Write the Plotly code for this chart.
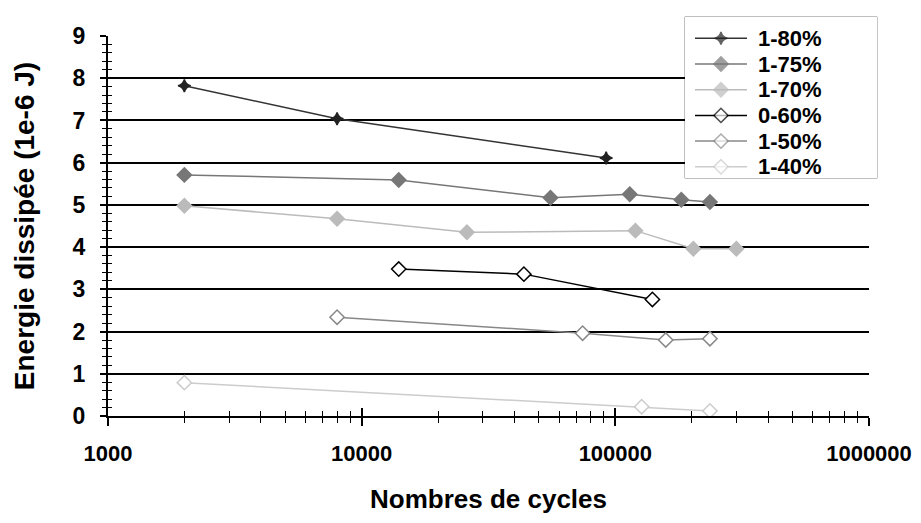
import plotly.graph_objects as go

# Energie dissipee vs nombre de cycles, one series per load level
series_names = ["1-80%", "1-75%", "1-70%", "0-60%", "1-50%", "1-40%"]

cycles_80 = [2000, 8000, 92000]
energy_80 = [7.82, 7.04, 6.11]

cycles_75 = [2000, 14000, 55500, 114000, 182000, 236000]
energy_75 = [5.71, 5.59, 5.17, 5.25, 5.12, 5.07]

cycles_70 = [2000, 8000, 26000, 120000, 203000, 300000]
energy_70 = [4.98, 4.67, 4.35, 4.39, 3.96, 3.96]

cycles_60 = [14000, 43600, 140000]
energy_60 = [3.48, 3.36, 2.76]

cycles_50 = [8000, 74300, 158000, 236000]
energy_50 = [2.34, 1.96, 1.80, 1.83]

cycles_40 = [2000, 127000, 236000]
energy_40 = [0.79, 0.22, 0.12]

x_ticks = [1000, 10000, 100000, 1000000]
y_ticks = list(range(10))

FONT = "Liberation Sans, Arial, sans-serif"

styles = [
    # line colour, marker symbol, marker size, marker fill, marker outline
    ("#333333", "star-diamond", 9, "#222222", "#222222"),
    ("#777777", "diamond", 11, "#777777", "#777777"),
    ("#bbbbbb", "diamond", 11, "#bbbbbb", "#bbbbbb"),
    ("#000000", "diamond", 11, "white", "#000000"),
    ("#888888", "diamond", 11, "white", "#888888"),
    ("#cccccc", "diamond", 11, "white", "#cccccc"),
]
data = [
    (cycles_80, energy_80), (cycles_75, energy_75), (cycles_70, energy_70),
    (cycles_60, energy_60), (cycles_50, energy_50), (cycles_40, energy_40),
]

fig = go.Figure()
for name, (xs, ys), (lc, sym, size, fill, outline) in zip(series_names, data, styles):
    fig.add_trace(go.Scatter(
        x=xs, y=ys, name=name, mode="lines+markers",
        line=dict(color=lc, width=1.5),
        marker=dict(symbol=sym, size=size, color=fill,
                    line=dict(color=outline, width=1.5)),
        showlegend=False,
    ))

# dummy trace on the overlay axes so the inward ticks get drawn
fig.add_trace(go.Scatter(x=[1000], y=[0], xaxis="x2", yaxis="y2",
                         mode="markers", marker=dict(opacity=0),
                         showlegend=False, hoverinfo="skip"))

# hand-built legend in its own small subplot (x3/y3, units = pixels / rows)
for i, (name, (lc, sym, size, fill, outline)) in enumerate(zip(series_names, styles)):
    fig.add_trace(go.Scatter(
        x=[10, 36, 62], y=[i, i, i], xaxis="x3", yaxis="y3",
        mode="lines+markers", line=dict(color=lc, width=1.5),
        marker=dict(symbol=sym, size=[0, size, 0], color=fill,
                    line=dict(color=outline, width=[0, 1.5, 0])),
        showlegend=False, hoverinfo="skip",
    ))
    fig.add_annotation(x=71, y=i, xref="x3", yref="y3", text=name,
                       showarrow=False, xanchor="left", yanchor="middle",
                       font=dict(family=FONT, size=22, color="black", weight="bold"))

fig.add_shape(type="rect", xref="x3 domain", yref="y3 domain",
              x0=0.004, x1=0.996, y0=0.005, y1=0.995,
              line=dict(color="black", width=2), fillcolor="white", layer="below")

fig.update_layout(
    width=921, height=523,
    margin=dict(l=100, r=52, t=9, b=115),
    paper_bgcolor="white", plot_bgcolor="white",
    font=dict(family=FONT, size=17, color="black"),
    showlegend=False,
    xaxis=dict(
        type="log", range=[3, 6], domain=[0, 0.9896], automargin=False,
        tickvals=x_ticks, ticktext=[str(v) for v in x_ticks],
        showgrid=False, zeroline=False,
        showline=True, linecolor="black", linewidth=2,
        ticks="outside", ticklen=8, tickwidth=1.5, tickcolor="black",
        minor=dict(ticks="outside", ticklen=5, tickwidth=1.2, tickcolor="black",
                   dtick="D1", showgrid=False),
        ticklabelstandoff=9,
        tickfont=dict(family=FONT, size=22, color="black", weight="bold"),
        title=dict(text="Nombres de cycles", standoff=24,
                   font=dict(family=FONT, size=26, color="black", weight="bold")),
    ),
    yaxis=dict(
        range=[0, 9], domain=[0, 0.9524], automargin=False,
        tickvals=y_ticks,
        showgrid=True, gridcolor="black", gridwidth=1.5,
        zeroline=False,
        showline=True, linecolor="black", linewidth=2,
        ticks="outside", ticklen=6, tickwidth=1.5, tickcolor="black",
        minor=dict(ticks="outside", ticklen=4, tickwidth=1, tickcolor="black",
                   dtick=0.2, showgrid=False),
        ticklabelstandoff=10,
        tickfont=dict(family=FONT, size=23, color="black", weight="bold"),
        title=dict(text="Energie dissipée (1e-6 J)", standoff=30,
                   font=dict(family=FONT, size=28, color="black", weight="bold")),
    ),
    xaxis2=dict(
        type="log", range=[3, 6], overlaying="x", anchor="y2", side="bottom",
        tickvals=x_ticks, showticklabels=False, showgrid=False, zeroline=False,
        showline=False, automargin=False,
        ticks="inside", ticklen=8, tickwidth=1.5, tickcolor="black",
        minor=dict(ticks="inside", ticklen=5, tickwidth=1.2, tickcolor="black",
                   dtick="D1", showgrid=False),
    ),
    yaxis2=dict(
        range=[0, 9], overlaying="y", anchor="x2", side="left",
        tickvals=y_ticks, showticklabels=False, showgrid=False, zeroline=False,
        showline=False, automargin=False,
        ticks="inside", ticklen=6, tickwidth=1.5, tickcolor="black",
        minor=dict(ticks="inside", ticklen=4, tickwidth=1, tickcolor="black",
                   dtick=0.2, showgrid=False),
    ),
    xaxis3=dict(domain=[0.7503, 1.0], range=[0, 192], anchor="y3",
                visible=False, automargin=False),
    yaxis3=dict(domain=[0.5965, 1.0], range=[5.436, -0.829], anchor="x3",
                visible=False, automargin=False),
)

fig.write_html("out.html")
